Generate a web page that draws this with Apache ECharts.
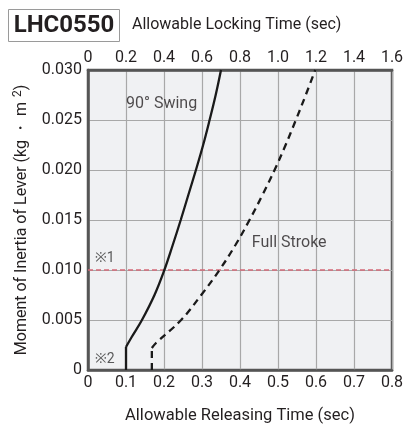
<!DOCTYPE html>
<html><head><meta charset="utf-8">
<script src="https://cdn.jsdelivr.net/npm/echarts@6/dist/echarts.min.js"></script>
<style>html,body{margin:0;padding:0;background:#fff}#c{width:405px;height:426px}</style>
</head><body><div id="c"></div>
<script>
// Data
const swingVertical = [[0.1, 0], [0.1, 0.0023]];
const swingCurve = [[0.1, 0.0023], [0.115, 0.0033], [0.142, 0.005], [0.175, 0.0075], [0.201, 0.010], [0.223, 0.0125], [0.244, 0.015], [0.264, 0.0175], [0.284, 0.020], [0.303, 0.0225], [0.320, 0.025], [0.336, 0.0275], [0.35, 0.030]];
const strokeVertical = [[0.168, 0], [0.168, 0.0022]];
const strokeCurve = [[0.168, 0.0022], [0.179, 0.0027], [0.245, 0.005], [0.298, 0.0075], [0.346, 0.010], [0.388, 0.0125], [0.425, 0.015], [0.459, 0.0175], [0.491, 0.020], [0.520, 0.0225], [0.547, 0.025], [0.573, 0.0275], [0.598, 0.030]];
const limitLine = 0.010;
const bottomTicks = [0, 0.8, 0.1];
const topTicks = [0, 1.6, 0.2];
const yTicks = [0, 0.030, 0.005];

const FONT = 'Roboto, "Noto Sans", sans-serif';
const TXT = '#231f20';
const chart = echarts.init(document.getElementById('c'), null, {renderer: 'canvas'});
const fmt1 = v => v === 0 ? '0' : v.toFixed(1);
const lineStyleSolid = {color: '#1a1a1a', width: 2.3, type: 'solid'};
const lineStyleDash = {color: '#1a1a1a', width: 2.3, type: [7, 5]};
chart.setOption({
  animation: false,
  textStyle: {fontFamily: FONT},
  graphic: [
    {type: 'rect', shape: {x: 8.5, y: 9.5, width: 111, height: 32}, style: {fill: '#fff', stroke: '#9a9a9a', lineWidth: 1}},
    {type: 'text', x: 64, y: 26, style: {text: 'LHC0550', font: 'bold 24px ' + FONT, fill: TXT, align: 'center', verticalAlign: 'middle'}},
    {type: 'text', x: 132, y: 25, style: {text: 'Allowable Locking Time (sec)', font: '16px ' + FONT, fill: TXT, align: 'left', verticalAlign: 'middle'}}
  ],
  grid: {left: 88, right: 13, top: 70, bottom: 56, show: true, backgroundColor: '#f0f1f3', borderColor: '#555', borderWidth: 2.5, outerBoundsMode: 'none', containLabel: false},
  xAxis: [
    {type: 'value', min: bottomTicks[0], max: bottomTicks[1], interval: bottomTicks[2], position: 'bottom',
     name: 'Allowable Releasing Time (sec)', nameLocation: 'middle', nameGap: 37,
     nameTextStyle: {fontSize: 16.5, color: TXT, fontFamily: FONT},
     axisLine: {show: true, lineStyle: {color: '#555', width: 2.5}}, axisTick: {show: false},
     axisLabel: {fontSize: 16, color: TXT, margin: 5, formatter: fmt1, fontFamily: FONT},
     splitLine: {show: true, lineStyle: {color: '#a8a8a8', width: 1.2}}},
    {type: 'value', min: topTicks[0], max: topTicks[1], interval: topTicks[2], position: 'top',
     axisLine: {show: true, lineStyle: {color: '#555', width: 2.5}}, axisTick: {show: false},
     axisLabel: {fontSize: 16, color: TXT, margin: 4, formatter: fmt1, fontFamily: FONT},
     splitLine: {show: false}}
  ],
  yAxis: {type: 'value', min: yTicks[0], max: yTicks[1], interval: yTicks[2],
     name: '{a|Moment of Inertia of Lever (kg ・ m }{s|2}{a|)}', nameLocation: 'middle', nameGap: 57,
     nameTextStyle: {fontSize: 16, color: TXT, fontFamily: FONT,
       rich: {a: {fontSize: 16, color: TXT, fontFamily: FONT}, s: {fontSize: 12, color: TXT, fontFamily: FONT, padding: [0, 0, 7, 1]}}},
     axisLine: {show: true, lineStyle: {color: '#555', width: 2.5}}, axisTick: {show: false},
     axisLabel: {fontSize: 16, color: TXT, margin: 6, formatter: v => v === 0 ? '0' : v.toFixed(3), fontFamily: FONT},
     splitLine: {show: true, lineStyle: {color: '#a8a8a8', width: 1.2}}},
  series: [
    {type: 'line', data: swingVertical, symbol: 'none', lineStyle: lineStyleSolid, z: 5},
    {type: 'line', data: swingCurve, symbol: 'none', smooth: 0.4, lineStyle: lineStyleSolid, z: 5},
    {type: 'line', data: strokeVertical, symbol: 'none', lineStyle: lineStyleDash, z: 5},
    {type: 'line', data: strokeCurve, symbol: 'none', smooth: 0.4, lineStyle: lineStyleDash, z: 5},
    {type: 'line', data: [], symbol: 'none',
     markLine: {silent: true, symbol: 'none', label: {show: false},
       lineStyle: {color: '#d46a78', width: 1.5, type: [5, 3]}, data: [{yAxis: limitLine}]}},
    {type: 'scatter', symbolSize: 0, data: [[0.0185, 0.0112]],
     label: {show: true, formatter: '※1', position: 'right', distance: 0, fontSize: 14, color: '#333', fontFamily: FONT}},
    {type: 'scatter', symbolSize: 0, data: [[0.0185, 0.0011]],
     label: {show: true, formatter: '※2', position: 'right', distance: 0, fontSize: 14, color: '#333', fontFamily: FONT}},
    {type: 'scatter', symbolSize: 0, data: [[0.1, 0.0266]],
     label: {show: true, formatter: '90° Swing', position: 'right', distance: 0, fontSize: 16, color: TXT, fontFamily: FONT}},
    {type: 'scatter', symbolSize: 0, data: [[0.431, 0.0127]],
     label: {show: true, formatter: 'Full Stroke', position: 'right', distance: 0, fontSize: 16, color: TXT, fontFamily: FONT}}
  ]
});
</script></body></html>
